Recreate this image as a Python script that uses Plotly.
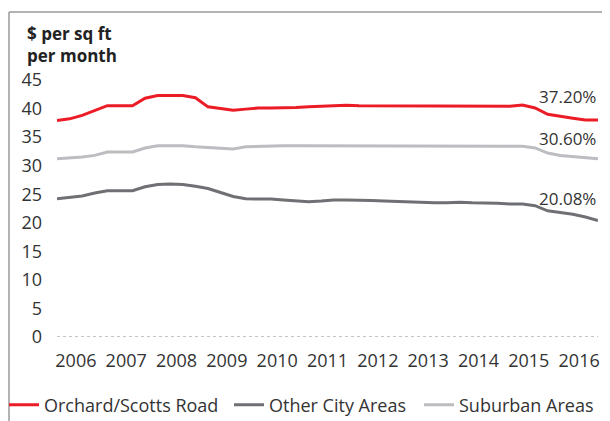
import plotly.graph_objects as go

# quarterly rents, 2006 Q1 .. 2016 Q4 ($ per sq ft per month)
years = [str(y) for y in range(2006, 2017)]

orchard = [37.9, 38.2, 38.8, 39.6, 40.5, 40.5, 40.5, 41.8, 42.3, 42.3, 42.3,
           41.9, 40.3, 40.0, 39.7, 39.9, 40.1, 40.1, 40.1, 40.2, 40.3, 40.4,
           40.5, 40.6, 40.5, 40.5, 40.5, 40.5, 40.5, 40.4, 40.4, 40.4, 40.4,
           40.4, 40.4, 40.4, 40.4, 40.6, 40.1, 39.0, 38.6, 38.3, 38.0, 38.0]
other_city = [24.2, 24.4, 24.7, 25.2, 25.6, 25.6, 25.6, 26.3, 26.7, 26.8, 26.7,
              26.4, 26.0, 25.3, 24.6, 24.2, 24.2, 24.15, 24.0, 23.8, 23.7, 23.8,
              24.0, 24.0, 24.0, 23.9, 23.8, 23.7, 23.6, 23.5, 23.5, 23.5, 23.6,
              23.5, 23.5, 23.4, 23.3, 23.3, 23.0, 22.1, 21.8, 21.5, 21.0, 20.4]
suburban = [31.2, 31.35, 31.5, 31.8, 32.4, 32.4, 32.4, 33.1, 33.5, 33.5, 33.5,
            33.3, 33.2, 33.0, 32.9, 33.3, 33.4, 33.4, 33.5, 33.5, 33.5, 33.5,
            33.5, 33.5, 33.5, 33.5, 33.5, 33.5, 33.5, 33.5, 33.5, 33.5, 33.45,
            33.45, 33.45, 33.4, 33.4, 33.4, 33.1, 32.2, 31.8, 31.6, 31.4, 31.2]

series_names = ["Orchard/Scotts Road", "Other City Areas", "Suburban Areas"]
end_labels = ["37.20%", "20.08%", "30.60%"]

colors = ["#EC1C26", "#6F7074", "#BCBDC0"]
label_shift = [23, 22, 20]
legend_left = [4, 229, 419]   # screen x where each legend entry starts

FONT = "Open Sans"
TXT = "#333333"

# the page body has an 8px margin, so the figure sits 8px in from the corner
OFF = 8
W, H = 610 - OFF, 421 - OFF
L, R, T, B = 57 - OFF, 12, 80 - OFF, 84
pw, ph = W - L - R, H - T - B


def px(sx):
    # screen x pixel -> paper coordinate
    return (sx - OFF - L) / pw


def py(sy):
    # screen y pixel -> paper coordinate
    return (H - B - (sy - OFF)) / ph


quarters = list(range(len(orchard)))
legend_ids = ["legend", "legend2", "legend3"]

fig = go.Figure()
for name, vals, col, lg in zip(series_names, [orchard, other_city, suburban],
                               colors, legend_ids):
    fig.add_trace(go.Scatter(x=quarters, y=vals, name=name, mode="lines",
                             legend=lg, line=dict(color=col, width=3)))

for vals, txt, sh in zip([orchard, other_city, suburban], end_labels, label_shift):
    fig.add_annotation(x=quarters[-1], y=vals[-1], text=txt, showarrow=False,
                       xanchor="right", yanchor="middle", yshift=sh,
                       font=dict(family=FONT, size=17, color=TXT))

# dotted zero line
fig.add_shape(type="line", xref="x", yref="y", x0=quarters[0], x1=quarters[-1],
              y0=0, y1=0, line=dict(color="#8a8a8a", width=1, dash="dot"))

# frame: top and left edge
fig.add_shape(type="line", xref="paper", yref="paper", x0=px(9), x1=px(620),
              y0=py(12), y1=py(12), line=dict(color="#9a9a9a", width=1.5))
fig.add_shape(type="line", xref="paper", yref="paper", x0=px(9), x1=px(9),
              y0=py(12), y1=py(430), line=dict(color="#9a9a9a", width=1.5))

fig.add_annotation(xref="paper", yref="paper", x=px(25), y=py(20),
                   xanchor="left", yanchor="top", align="left", showarrow=False,
                   text="$ per sq ft<br>per month",
                   font=dict(family=FONT, size=17, color="#222222",
                             weight="bold"))

legend_style = dict(orientation="h", xanchor="left", yanchor="middle",
                    y=py(405), bgcolor="rgba(0,0,0,0)",
                    font=dict(family=FONT, size=18, color=TXT))

fig.update_layout(
    width=W, height=H,
    margin=dict(l=L, r=R, t=T, b=B, autoexpand=False),
    paper_bgcolor="white", plot_bgcolor="white",
    font=dict(family=FONT, size=18, color=TXT),
    showlegend=True,
    xaxis=dict(range=[0, quarters[-1]], showgrid=False, zeroline=False,
               showline=False, ticks="",
               tickvals=[1.5 + 4 * i for i in range(len(years))],
               ticktext=years, ticklabelstandoff=11),
    yaxis=dict(range=[0, 45], showgrid=False, zeroline=False, showline=False,
               ticks="", dtick=5, ticklabelstandoff=14),
    legend=dict(x=px(legend_left[0]), **legend_style),
    legend2=dict(x=px(legend_left[1]), **legend_style),
    legend3=dict(x=px(legend_left[2]), **legend_style),
)

fig.write_html("out.html")
